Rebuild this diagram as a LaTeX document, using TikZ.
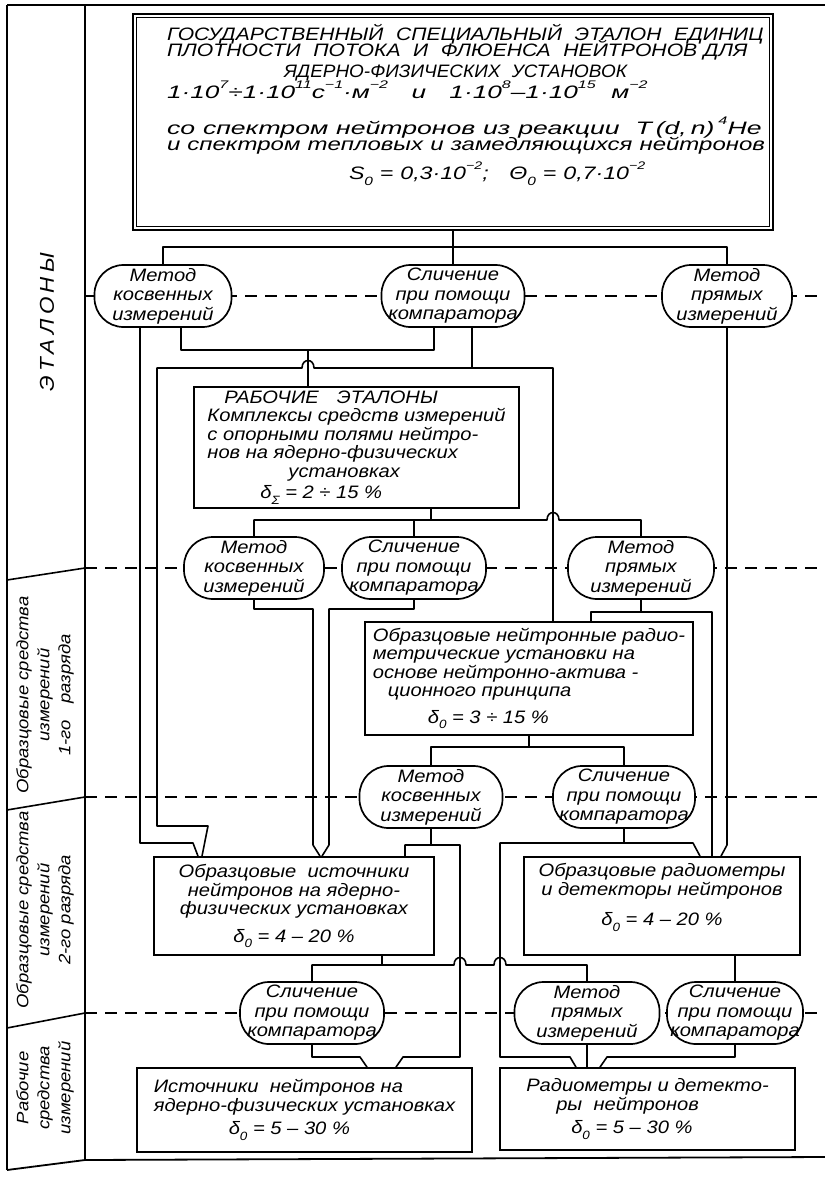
\documentclass[tikz,border=0pt]{standalone}
\usepackage{fontspec}
\setmainfont{Liberation Sans}[FakeStretch=1.12]
\newcommand\tbf{\fontsize{18}{16}\selectfont\itshape\lineskiplimit=-50pt\relax}
\newcommand\bxf{\fontsize{18}{18.5}\selectfont\itshape}
\newcommand\ovf{\fontsize{18}{19.5}\selectfont\itshape}
\newcommand\stf{\fontsize{16.5}{21}\selectfont\itshape}
\newcommand\up[1]{\raisebox{0.55em}{\fontsize{11}{11}\selectfont #1}}
\newcommand\lo[1]{\raisebox{-0.3em}{\fontsize{12}{12}\selectfont #1}}
\usetikzlibrary{calc}
\begin{document}
\begin{tikzpicture}[x=1pt,y=-1pt,
  ln/.style={line width=1.6pt,line join=round},
  dsh/.style={line width=1.5pt,dash pattern=on 12pt off 8pt},
  oval/.style={draw,fill=white,rectangle,rounded corners=29pt,line width=1.7pt,minimum height=62pt,inner sep=0pt,align=center,font=\ovf},
  box/.style={draw,fill=white,line width=1.8pt,inner sep=0pt,font=\bxf},
  lbl/.style={rotate=90,align=center,font=\stf,inner sep=0pt}]
\fill[white] (0,0) rectangle (825,1184);
\useasboundingbox (0,0) rectangle (825,1184);
% frame
\draw[line width=2.2pt] (7,5) -- (7,1170);
\draw[line width=1.8pt] (7,5) -- (825,5);
\draw[line width=1.6pt] (85,5) -- (85,1160);
\draw[line width=1.8pt] (7,1170) -- (85,1160) -- (825,1157);
\draw[line width=1.6pt] (7,580) -- (85,568);
\draw[line width=1.6pt] (7,810) -- (85,797);
\draw[line width=1.6pt] (7,1028) -- (85,1013);
% strip labels
\node[lbl,font=\fontsize{20}{20}\selectfont\itshape] (L0) at (47,322) {\addfontfeature{LetterSpace=22}ЭТАЛОНЫ};
\node[lbl] (L1) at (45,695) {Образцовые средства\\измерений\\1-го\quad разряда};
\node[lbl] (L2) at (45,910) {Образцовые средства\\измерений\\2-го разряда};
\node[lbl] (L3) at (45,1088) {Рабочие\\средства\\измерений};
% dashed level lines
\draw[dsh] (85,296) -- (825,296);
\draw[dsh] (85,568) -- (825,568);
\draw[dsh] (85,797) -- (825,797);
\draw[dsh] (85,1013) -- (825,1013);
% top box
\node[draw,fill=white,line width=2.4pt,minimum width=640pt,minimum height=216pt,inner sep=0pt,font=\tbf,align=left,text width=572pt] (TB) at (453,122) {%
\scalebox{1.045}[1]{ГОСУДАРСТВЕННЫЙ\ \ СПЕЦИАЛЬНЫЙ\ \ ЭТАЛОН\ \ ЕДИНИЦ}\\
\scalebox{1.05}[1]{ПЛОТНОСТИ\ \ ПОТОКА\ \ И\ \ ФЛЮЕНСА\ \ НЕЙТРОНОВ\ ДЛЯ}\\[5pt]
\hspace*{117pt}\scalebox{0.94}[1]{ЯДЕРНО-ФИЗИЧЕСКИХ\ \ УСТАНОВОК}\\[5pt]
\scalebox{1.3}[1]{1·10\up{7}÷1·10\up{11}с\up{−1}·м\up{−2}\quad и\quad 1·10\up{8}–1·10\up{15}\ \ м\up{−2}}\\[20pt]
\scalebox{1.32}[1]{со спектром нейтронов из реакции \ T\,(d,\,n)\,\up{4}He}\\
\scalebox{1.19}[1]{и спектром тепловых и замедляющихся нейтронов}\\[13pt]
\hspace*{182pt}\scalebox{1.15}[1]{S\lo{0} = 0,3·10\up{−2};\quad Θ\lo{0} = 0,7·10\up{−2}}\\[24pt]\mbox{}};
\draw[line width=1.2pt] ($(TB.north west)+(4.5,4.5)$) rectangle ($(TB.south east)+(-4.5,-4.5)$);
% row 1 ovals
\node[oval,minimum width=137pt] (O1a) at (163,296) {Метод\\косвенных\\измерений};
\node[oval,minimum width=143pt] (O1b) at (453,296) {Сличение\\при помощи\\компаратора};
\node[oval,minimum width=130pt] (O1c) at (727,296) {Метод\\прямых\\измерений};
% working standards
\node[box,align=left,minimum width=325pt,minimum height=121pt] (WS) at (356.5,447.5) {%
\hspace*{17pt}РАБОЧИЕ\quad ЭТАЛОНЫ\\
Комплексы средств измерений\\
с опорными полями нейтро-\\
нов на ядерно-физических\\
\hspace*{81pt}установках\\[3pt]
\hspace*{53pt}δ\lo{Σ} = 2 ÷ 15 \%};
% row 2 ovals
\node[oval,minimum width=140pt] (O2a) at (254,568) {Метод\\косвенных\\измерений};
\node[oval,minimum width=144pt] (O2b) at (414,568) {Сличение\\при помощи\\компаратора};
\node[oval,minimum width=146pt] (O2c) at (641,568) {Метод\\прямых\\измерений};
% 1st rank
\node[box,align=left,minimum width=328pt,minimum height=113pt] (B1) at (529,678.5) {%
Образцовые нейтронные радио-\\
метрические установки на\\
основе нейтронно-актива -\\
\hspace*{15pt}ционного принципа\\[8pt]
\hspace*{55pt}δ\lo{0} = 3 ÷ 15 \%};
% row 3 ovals
\node[oval,minimum width=143pt] (O3a) at (431,797) {Метод\\косвенных\\измерений};
\node[oval,minimum width=142pt] (O3b) at (624,797) {Сличение\\при помощи\\компаратора};
% 2nd rank
\node[box,align=center,minimum width=280pt,minimum height=98pt] (B2) at (294,906) {%
Образцовые\ \ источники\\
нейтронов на ядерно-\\
физических установках\\[9pt]
δ\lo{0} = 4 – 20 \%};
\node[box,align=center,minimum width=276pt,minimum height=98pt] (B3) at (662,906) {%
Образцовые радиометры\\
и детекторы нейтронов\\[12pt]
δ\lo{0} = 4 – 20 \%\\[4pt]\mbox{}};
% row 4 ovals
\node[oval,minimum width=144pt] (O4a) at (312,1013) {Сличение\\при помощи\\компаратора};
\node[oval,minimum width=145pt] (O4b) at (587,1013) {Метод\\прямых\\измерений};
\node[oval,minimum width=136pt] (O4c) at (735,1013) {Сличение\\при помощи\\компаратора};
% working measuring instruments
\node[box,align=left,minimum width=335pt,minimum height=84pt] (B4) at (304.5,1110) {%
Источники\ \ нейтронов на\\
ядерно-физических установках\\[5pt]
\hspace*{75pt}δ\lo{0} = 5 – 30 \%};
\node[box,align=left,minimum width=295pt,minimum height=82pt] (B5) at (647.5,1109) {%
Радиометры и детекто-\\
\hspace*{30pt}ры\ \ нейтронов\\[5pt]
\hspace*{45pt}δ\lo{0} = 5 – 30 \%};
% ---- connectors ----
\draw[ln] (TB.south) -- (O1b.north);
\draw[ln] (O1a.north) -- (O1a.north |- 0,247) -- (O1c.north |- 0,247) -- (O1c.north);
% from row 1
\draw[ln] ([xshift=-23pt]O1a.south) -- (140,843) -- (193,843) -- (B2.north -| 198,0);
\draw[ln] ([xshift=18pt]O1a.south) -- (181,350) -- (434,350) -- ([xshift=-19pt]O1b.south);
\draw[ln] (308,350) -- (WS.north -| 308,0);
\draw[ln] ([xshift=19pt]O1b.south) -- (472,368);
\draw[ln] (B1.north -| 553,0) -- (553,368) -- (314,368) .. controls (314,358) and (302,358) .. (302,368) -- (157,368) -- (157,826) -- (208,826) -- (B2.north -| 202,0);
\draw[ln] (O1c.south) -- (727,845) -- (B3.north -| 721,0);
% from working standards
\draw[ln] ([xshift=74.5pt]WS.south) -- (431,520);
\draw[ln] (O2a.north) -- (O2a.north |- 0,520) -- (547,520) .. controls (547,510) and (559,510) .. (559,520) -- (O2c.north |- 0,520) -- (O2c.north);
\draw[ln] (O2b.north) -- (O2b.north |- 0,520);
% from row 2
\draw[ln] (O2a.south) -- (O2a.south |- 0,609) -- (313,609) -- (313,845) -- (B2.north -| 320,0);
\draw[ln] (O2b.south) -- (O2b.south |- 0,609) -- (329,609) -- (329,845) -- (B2.north -| 322,0);
\draw[ln] (O2c.south) -- (O2c.south |- 0,612);
\draw[ln] (B1.north -| 591,0) -- (591,612) -- (712,612) -- (B3.north -| 712,0);
% from 1st rank
\draw[ln] (B1.south) -- (529,747);
\draw[ln] (O3a.north) -- (O3a.north |- 0,747) -- (O3b.north |- 0,747) -- (O3b.north);
% from row 3
\draw[ln] (O3a.south) -- (431,845);
\draw[ln] (B2.north -| 405,0) -- (405,845) -- (460,845) -- (460,1057) -- (403,1057) -- (B4.north -| 396,0);
\draw[ln] (O3b.south) -- (624,843);
\draw[ln] (B5.north -| 576,0) -- (570,1057) -- (500,1057) -- (500,843) -- (693,843) -- (B3.north -| 700,0);
% from 2nd rank
\draw[ln] ([xshift=88pt]B2.south) -- (382,965);
\draw[ln] (O4a.north) -- (O4a.north |- 0,965) -- (454,965) .. controls (454,955) and (466,955) .. (466,965) -- (494,965) .. controls (494,955) and (506,955) .. (506,965) -- (O4b.north |- 0,965) -- (O4b.north);
\draw[ln] (B3.south -| 735,0) -- (O4c.north);
% from row 4
\draw[ln] (O4a.south) -- (312,1057) -- (360,1057) -- (B4.north -| 367,0);
\draw[ln] (O4b.south) -- (B5.north -| 587,0);
\draw[ln] (O4c.south) -- (735,1057) -- (607,1057) -- (B5.north -| 600,0);
\end{tikzpicture}
\end{document}
